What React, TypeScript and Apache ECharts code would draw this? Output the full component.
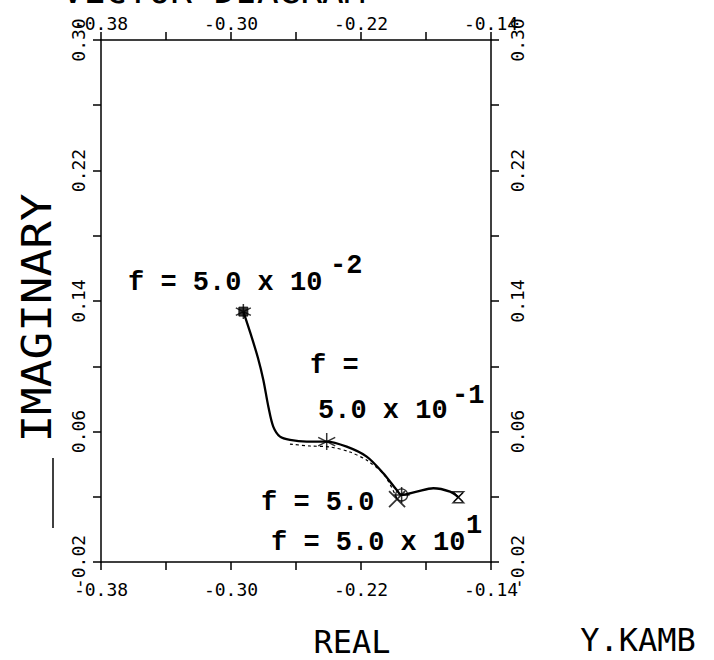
import React, { useEffect, useRef } from "react";
import * as echarts from "echarts";

// Axis ranges and tick labels
const X_MIN = -0.38;
const X_MAX = -0.14;
const X_STEP = 0.04;
const Y_MIN = -0.02;
const Y_MAX = 0.3;
const Y_STEP = 0.04;
const xTickLabels = ["-0.38", "-0.30", "-0.22", "-0.14"];
const yTickLabels = ["-0.02", "0.06", "0.14", "0.22", "0.30"];

// Main locus (real, imaginary)
const curveRe = [-0.2924, -0.2877, -0.2834, -0.2801, -0.277, -0.274, -0.2698, -0.2637, -0.2534, -0.2411, -0.2288, -0.2165, -0.2063, -0.198, -0.195, -0.1857, -0.1755, -0.1652, -0.1601];
const curveIm = [0.1335, 0.1192, 0.1051, 0.0916, 0.0752, 0.063, 0.0568, 0.0548, 0.0538, 0.0538, 0.0507, 0.0446, 0.0344, 0.0241, 0.0211, 0.0231, 0.0252, 0.0231, 0.0197];
// indices of the frequency points on the main locus
const markerIndex = [0, 9, 14, 18];

// Secondary (dotted) locus
const dottedRe = [-0.2637, -0.2514, -0.2391, -0.2268, -0.2157, -0.2052, -0.1978];
const dottedIm = [0.0523, 0.0511, 0.0505, 0.0474, 0.0419, 0.0327, 0.0186];

// Frequency annotations
const freqMain = ["f = 5.0 x 10", "f =", "5.0 x 10", "f = 5.0", "f = 5.0 x 10"];
const freqExp = ["-2", "-1", "1"];

const titleText = "VECTOR DIAGRAM";
const xName = "REAL";
const yName = "IMAGINARY";
const author = "Y.KAMB";

const ASTER = "path://M10,0L10,20M1.34,5L18.66,15M1.34,15L18.66,5";
const PLUS = "path://M10,0L10,20M0,10L20,10";
const CROSS = "path://M0,0L20,20M0,20L20,0";
const BOW = "path://M0,0L20,0L0,20L20,20Z";

export default function App() {
  const ref = useRef<HTMLDivElement>(null);
  useEffect(() => {
    if (!ref.current) return;
    const chart = echarts.init(ref.current, null, { renderer: "svg" });
    const mono = "'DejaVu Sans Mono', 'Liberation Mono', monospace";
    const type = "'Liberation Mono', 'Courier New', monospace";

    const xFmt = (v: number) => {
      const i = Math.round((v - X_MIN) / X_STEP);
      return i % 2 === 0 ? xTickLabels[i / 2] ?? "" : "";
    };
    const yFmt = (v: number) => {
      const i = Math.round((v - Y_MIN) / Y_STEP);
      return i % 2 === 0 ? yTickLabels[i / 2] ?? "" : "";
    };
    const lineStyle = { color: "#000", width: 1.5 };
    const xBase = {
      type: "value",
      min: X_MIN,
      max: X_MAX,
      interval: X_STEP,
      axisLine: { show: true, onZero: false, lineStyle },
      axisTick: { show: true, length: 8, lineStyle },
      splitLine: { show: false },
    };
    const yBase = {
      type: "value",
      min: Y_MIN,
      max: Y_MAX,
      interval: Y_STEP,
      axisLine: { show: true, onZero: false, lineStyle },
      axisTick: { show: true, length: 8, lineStyle },
      splitLine: { show: false },
    };
    const labelStyle = { fontFamily: mono, fontSize: 18, color: "#000" };

    const curve = curveRe.map((x, i) => [x, curveIm[i]]);
    const dotted = dottedRe.map((x, i) => [x, dottedIm[i]]);
    const outlineSym = ["rect", "none", "circle", BOW];
    const strokeSym = [ASTER, ASTER, PLUS, CROSS];
    const outlineSize = [9, 0, 12, 11];
    const strokeSize = [15, 17, 16, 9];

    const outline = markerIndex.map((k, j) => ({
      value: [curveRe[k], curveIm[k]],
      symbol: outlineSym[j],
      symbolSize: outlineSize[j],
      itemStyle: j === 0 ? { color: "#000", borderColor: "#000", borderWidth: 1 } : { color: "rgba(0,0,0,0)", borderColor: "#000", borderWidth: 1.3 },
    }));
    const strokes = markerIndex.map((k, j) => ({
      value: [curveRe[k], curveIm[k]],
      symbol: strokeSym[j],
      symbolSize: strokeSize[j],
    }));
    const last = dottedRe.length - 1;

    const T = (text: string, x: number, y: number, extra: any = {}) => ({
      type: "text",
      x,
      y,
      silent: true,
      style: { text, fill: "#000", font: `bold 27px ${type}`, align: "left", verticalAlign: "middle", ...extra },
    });

    chart.setOption({
      animation: false,
      backgroundColor: "#fff",
      grid: { left: 101, right: 223, top: 40, bottom: 98, containLabel: false },
      xAxis: [
        { ...xBase, position: "bottom", axisLabel: { ...labelStyle, margin: 18, formatter: xFmt } },
        { ...xBase, position: "top", axisLabel: { ...labelStyle, margin: 8, formatter: xFmt } },
      ],
      yAxis: [
        { ...yBase, position: "left", axisLabel: { ...labelStyle, rotate: 90, margin: 14, formatter: yFmt } },
        { ...yBase, position: "right", axisLabel: { ...labelStyle, rotate: 90, margin: 17, formatter: yFmt } },
      ],
      series: [
        {
          type: "line",
          data: curve,
          smooth: 0.3,
          symbol: "none",
          lineStyle: { color: "#000", width: 2.3 },
          z: 3,
        },
        {
          type: "line",
          data: dotted,
          smooth: 0.3,
          symbol: "none",
          lineStyle: { color: "#000", width: 1.2, type: [3, 3] },
          z: 2,
        },
        {
          type: "scatter",
          data: outline,
          z: 4,
        },
        {
          type: "scatter",
          data: strokes,
          itemStyle: { color: "rgba(0,0,0,0)", borderColor: "#000", borderWidth: 1.5 },
          z: 5,
        },
        {
          type: "scatter",
          data: [[dottedRe[last], dottedIm[last]]],
          symbol: CROSS,
          symbolSize: 16,
          itemStyle: { color: "rgba(0,0,0,0)", borderColor: "#000", borderWidth: 1.8 },
          z: 5,
        },
      ],
      graphic: [
        {
          type: "text",
          x: 62,
          y: -10,
          silent: true,
          style: { text: titleText, fill: "#000", font: `36px ${mono}`, align: "left", verticalAlign: "middle" },
        },
        T(freqMain[0], 128, 283),
        T(freqExp[0], 330, 266),
        T(freqMain[1], 310, 366),
        T(freqMain[2], 318, 411),
        T(freqExp[1], 452, 396),
        T(freqMain[3], 261, 503),
        T(freqMain[4], 271, 543),
        T(freqExp[2], 466, 526),
        {
          type: "text",
          x: 37,
          y: 318,
          rotation: Math.PI / 2,
          scaleX: 1.15,
          silent: true,
          style: { text: yName, fill: "#000", font: `40px ${mono}`, align: "center", verticalAlign: "middle" },
        },
        {
          type: "line",
          silent: true,
          shape: { x1: 53, y1: 458, x2: 53, y2: 528 },
          style: { stroke: "#000", lineWidth: 1.5 },
        },
        {
          type: "text",
          x: 352,
          y: 642,
          silent: true,
          style: { text: xName, fill: "#000", font: `32px ${mono}`, align: "center", verticalAlign: "middle" },
        },
        {
          type: "text",
          x: 638,
          y: 640,
          silent: true,
          style: { text: author, fill: "#000", font: `32px ${mono}`, align: "center", verticalAlign: "middle" },
        },
      ],
    });
    return () => chart.dispose();
  }, []);
  return (
    <div
      ref={ref}
      style={{ position: "absolute", left: 0, top: 0, width: 714, height: 660, background: "#fff" }}
    />
  );
}
